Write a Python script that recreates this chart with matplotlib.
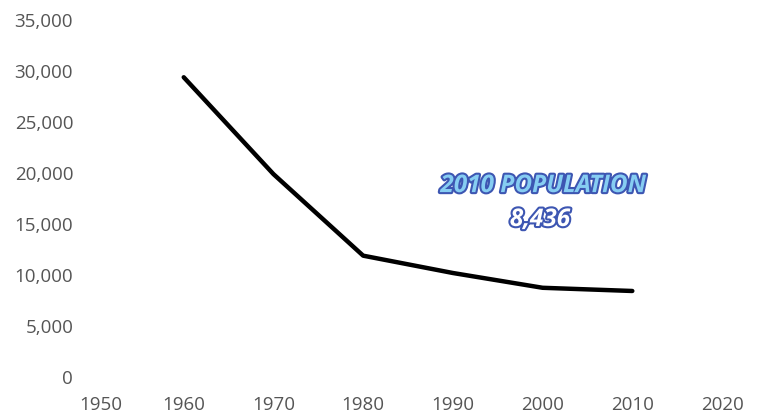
import matplotlib.pyplot as plt
import matplotlib.patheffects as pe
import matplotlib.transforms as mtransforms
from matplotlib.ticker import FuncFormatter

# Population by census year
years = [1960, 1970, 1980, 1990, 2000, 2010]
population = [29400, 19900, 11900, 10200, 8750, 8436]

x_ticks = [1950, 1960, 1970, 1980, 1990, 2000, 2010, 2020]
y_ticks = [0, 5000, 10000, 15000, 20000, 25000, 30000, 35000]

fig = plt.figure(figsize=(7.57, 4.2), dpi=100)
ax = fig.add_axes([0.1242, 0.1024, 0.8296, 0.8496])

ax.plot(years, population, color="black", linewidth=3.2, solid_capstyle="round",
        solid_joinstyle="round")

# Format axes.
ax.set_xlim(1950, 2020)
ax.set_ylim(0, 35000)
ax.set_xticks(x_ticks)
ax.set_yticks(y_ticks)
ax.yaxis.set_major_formatter(FuncFormatter(lambda v, p: f"{int(v):,}"))
for side in ["top", "right", "bottom", "left"]:
    ax.spines[side].set_visible(False)
ax.tick_params(length=0, labelsize=13.5, labelcolor="#555555")
ax.tick_params(axis="x", pad=14)
ax.tick_params(axis="y", pad=15)
for lbl in ax.get_xticklabels() + ax.get_yticklabels():
    lbl.set_fontfamily("Open Sans")
# first year label sits a little right of its tick in the original
first = ax.get_xticklabels()[0]
first.set_transform(first.get_transform() +
                    mtransforms.ScaledTranslation(7 / 100, 0, fig.dpi_scale_trans))

# Callout for the latest value.
outline = [pe.Stroke(linewidth=3, foreground="#3d56b2"), pe.Normal()]
callout_font = dict(ha="center", va="center", fontsize=17.5, fontweight="bold",
                    fontstyle="italic", fontstretch="condensed",
                    family="Open Sans")
ax.text(0.715, 0.535, "2010 POPULATION", transform=ax.transAxes,
        color="#86cdf2", path_effects=outline, **callout_font)
ax.text(0.710, 0.44, f"{population[-1]:,}", transform=ax.transAxes,
        color="white", path_effects=outline, **callout_font)

fig.savefig("out.png", dpi=100)
